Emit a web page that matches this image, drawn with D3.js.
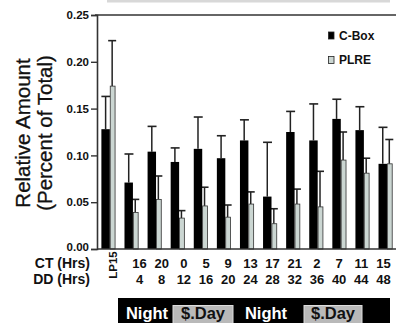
<!DOCTYPE html>
<html><head><meta charset="utf-8">
<script src="https://cdn.jsdelivr.net/npm/d3@7"></script>
<style>body{margin:0;background:#fff}svg{display:block;font-family:"Liberation Sans",Arial,sans-serif}</style>
</head><body>
<script>
const categories = ["LP15","4","8","12","16","20","24","28","32","36","40","44","48"];
const ctLabels = ["16","20","0","5","9","13","17","21","2","7","11","15"];
const ddLabels = ["4","8","12","16","20","24","28","32","36","40","44","48"];
const cbox    = [0.128,0.071,0.104,0.093,0.107,0.097,0.116,0.056,0.125,0.116,0.139,0.127,0.091];
const cboxErr = [0.163,0.1015,0.131,0.108,0.141,0.121,0.138,0.114,0.147,0.155,0.160,0.152,0.130];
const plre    = [0.174,0.039,0.053,0.033,0.046,0.034,0.048,0.027,0.048,0.045,0.095,0.081,0.091];
const plreErr = [0.2226,0.053,0.078,0.041,0.066,0.047,0.061,0.043,0.064,0.083,0.125,0.097,0.117];
const yTicks = [0,0.05,0.10,0.15,0.20,0.25];
const bannerItems = [{t:"Night",box:false},{t:"$.Day",box:true},{t:"Night",box:false},{t:"$.Day",box:true}];

const W=396,H=323;
const svg=d3.select("body").append("svg").attr("width",W).attr("height",H);
const y=d3.scaleLinear().domain([0,0.25]).range([249,15]);
const x=d3.scaleBand().domain(categories).range([97,397]).paddingInner(0.39).paddingOuter(0.19);
const bw=x.bandwidth(), bBlack=bw*0.6, bGray=bw-bBlack;
const lx=d3.scaleLinear().domain([1,12]).range([139.5,383.5]);

// top gray strip
svg.append("rect").attr("x",107).attr("y",0).attr("width",283).attr("height",2.5).attr("fill","#d8d8d8");

// bars
const g=svg.append("g");
categories.forEach((c,i)=>{
  const x0=x(c);
  const cx=x0+bBlack/2;
  g.append("line").attr("x1",cx).attr("x2",cx).attr("y1",y(cbox[i])).attr("y2",y(cboxErr[i])).attr("stroke","#222").attr("stroke-width",1.5);
  g.append("line").attr("x1",x0).attr("x2",x0+bBlack+0.5).attr("y1",y(cboxErr[i])).attr("y2",y(cboxErr[i])).attr("stroke","#222").attr("stroke-width",1.6);
  const gx=x0+bBlack+bGray/2;
  g.append("line").attr("x1",gx-0.5).attr("x2",gx-0.5).attr("y1",y(plre[i])).attr("y2",y(plreErr[i])).attr("stroke","#222").attr("stroke-width",1.5);
  g.append("line").attr("x1",gx-4.5).attr("x2",gx+3.5).attr("y1",y(plreErr[i])).attr("y2",y(plreErr[i])).attr("stroke","#222").attr("stroke-width",1.6);
  g.append("rect").attr("x",x0).attr("y",y(cbox[i])).attr("width",bBlack).attr("height",y(0)-y(cbox[i])).attr("fill","#000");
  g.append("rect").attr("x",x0+bBlack+0.4).attr("y",y(plre[i])).attr("width",bGray-0.8).attr("height",y(0)-y(plre[i])).attr("fill","#cbd6d2").attr("stroke","#333").attr("stroke-width",0.8);
});

// axes
const ya=svg.append("g").attr("transform","translate(97,0)").call(d3.axisLeft(y).tickValues(yTicks).tickFormat(d3.format(".2f")).tickSize(6).tickPadding(2));
ya.select(".domain").attr("stroke","#333").attr("stroke-width",1.6);
ya.selectAll(".tick line").attr("stroke","#333").attr("stroke-width",1.4);
ya.selectAll(".tick text").attr("font-size",11.5).attr("font-weight","bold").attr("fill","#111").attr("font-family","Liberation Sans, Arial");
ya.selectAll(".tick text").filter(d=>d===0).attr("dy","0.1em");
svg.append("line").attr("x1",95).attr("x2",W).attr("y1",15).attr("y2",15).attr("stroke","#333").attr("stroke-width",1.6);
svg.append("line").attr("x1",97).attr("x2",W).attr("y1",249).attr("y2",249).attr("stroke","#333").attr("stroke-width",1.6);

// y title
[["Relative Amount",23],["(Percent of Total)",45]].forEach(([t,xx])=>{
  svg.append("text").attr("transform",`translate(${xx},133) rotate(-90)`).attr("text-anchor","middle").attr("dy","0.35em").attr("font-size",20.5).attr("fill","#111").attr("stroke","#111").attr("stroke-width",0.3).text(t);
});

// legend
const leg=[{t:"C-Box",f:"#000",y:35.5},{t:"PLRE",f:"#cbd6d2",y:60}];
leg.forEach(l=>{
  svg.append("rect").attr("x",328.5).attr("y",l.y-3.5).attr("width",5.5).attr("height",7).attr("fill",l.f).attr("stroke","#222").attr("stroke-width",0.8);
  svg.append("text").attr("x",339).attr("y",l.y+4.2).attr("font-size",12).attr("font-weight","bold").attr("fill","#111").text(l.t);
});

// x labels
svg.append("text").attr("x",90).attr("y",268).attr("text-anchor","end").attr("font-size",14).attr("font-weight","bold").attr("fill","#111").text("CT (Hrs)");
svg.append("text").attr("x",90).attr("y",284).attr("text-anchor","end").attr("font-size",14).attr("font-weight","bold").attr("fill","#111").text("DD (Hrs)");
svg.append("text").attr("transform",`translate(${x(categories[0])+bw/2+8.5},265) rotate(-90)`).attr("text-anchor","middle").attr("font-size",11.5).attr("font-weight","bold").attr("fill","#111").text(categories[0]);
ctLabels.forEach((t,i)=>svg.append("text").attr("x",lx(i+1)).attr("y",267.5).attr("text-anchor","middle").attr("font-size",13).attr("font-weight","bold").attr("fill","#111").text(t));
ddLabels.forEach((t,i)=>svg.append("text").attr("x",lx(i+1)).attr("y",283.5).attr("text-anchor","middle").attr("font-size",13).attr("font-weight","bold").attr("fill","#111").text(t));

// banner
svg.append("rect").attr("x",118).attr("y",298).attr("width",272).attr("height",30).attr("fill","#000");
const bx=[{x:125,w:44},{x:173,w:60},{x:244,w:44},{x:304,w:58}];
bannerItems.forEach((b,i)=>{
  const p=bx[i];
  if(b.box) svg.append("rect").attr("x",p.x).attr("y",305.5).attr("width",p.w).attr("height",22).attr("fill","#b9b9b9").attr("stroke","#ddd").attr("stroke-width",1);
  svg.append("text").attr("x",p.x+p.w/2).attr("y",319).attr("text-anchor","middle").attr("font-size",16.5).attr("font-weight","bold").attr("fill",b.box?"#111":"#fff").text(b.t);
});
</script>
</body></html>
